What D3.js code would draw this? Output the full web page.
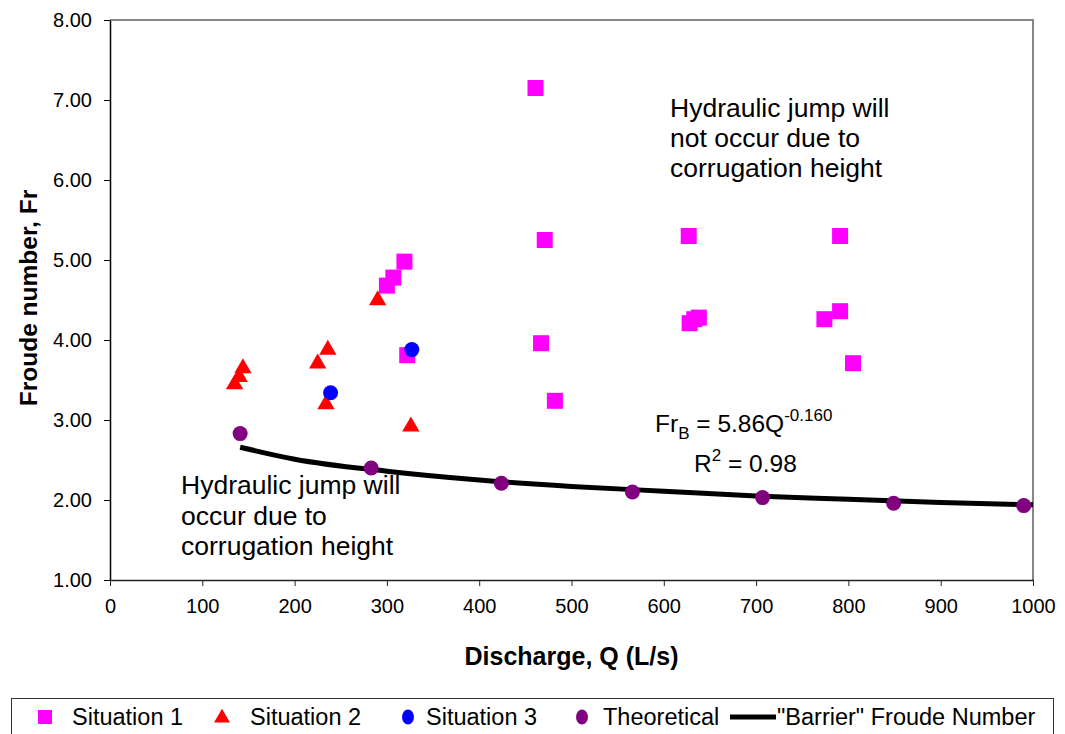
<!DOCTYPE html>
<html>
<head>
<meta charset="utf-8">
<script src="https://cdn.jsdelivr.net/npm/d3@7"></script>
<style>
  body { margin: 0; background: #fff; }
  svg { font-family: "Liberation Sans", Arial, sans-serif; }
</style>
</head>
<body>
<div id="chart"></div>
<script>
// data
const sit1Q  = [461, 471, 627, 791, 467, 482, 628, 633, 638, 774, 791, 805, 319, 307, 300, 322];
const sit1Fr = [7.15, 5.25, 5.30, 5.30, 3.96, 3.24, 4.21, 4.26, 4.28, 4.26, 4.36, 3.71, 4.98, 4.78, 4.68, 3.81];

const sit2Q  = [290, 236, 225, 144, 140, 135, 234, 326];
const sit2Fr = [4.51, 3.89, 3.72, 3.66, 3.55, 3.46, 3.21, 2.93];

const sit3Q  = [239, 327];
const sit3Fr = [3.34, 3.88];

const theoQ  = [141, 283, 424, 566, 707, 849, 990];
const theoFr = [2.83, 2.40, 2.21, 2.10, 2.03, 1.96, 1.93];

// "Barrier" Froude number curve
const barrierQ  = [141, 200, 300, 400, 500, 600, 700, 800, 900, 1000];
const barrierFr = [2.66, 2.51, 2.36, 2.25, 2.17, 2.11, 2.05, 2.01, 1.97, 1.94];

const xTicks = [0, 100, 200, 300, 400, 500, 600, 700, 800, 900, 1000];
const yTicks = [1, 2, 3, 4, 5, 6, 7, 8];

const W = 1065, H = 734;
const margin = { top: 20, right: 32, bottom: 154, left: 110 };
const width = W - margin.left - margin.right;
const height = H - margin.top - margin.bottom;

const zip = (a, b) => a.map((v, i) => ({ q: v, fr: b[i] }));

const x = d3.scaleLinear().domain([0, 1000]).range([0, width]);
const y = d3.scaleLinear().domain([1, 8]).range([height, 0]);

const svg = d3.select("#chart").append("svg")
    .attr("width", W)
    .attr("height", H);

const g = svg.append("g")
    .attr("transform", `translate(${margin.left},${margin.top})`);

// plot frame (top and right in grey)
g.append("path")
    .attr("d", `M0,0H${width}V${height}`)
    .attr("fill", "none")
    .attr("stroke", "#868686")
    .attr("stroke-width", 2);

// x axis
const xAxis = g.append("g")
    .attr("transform", `translate(0,${height})`)
    .call(d3.axisBottom(x).tickValues(xTicks).tickFormat(d3.format("d")).tickSize(6).tickPadding(13).tickSizeOuter(0));
xAxis.select(".domain").attr("stroke", "#222").attr("stroke-width", 1.5);
xAxis.selectAll(".tick line").attr("stroke", "#222");
xAxis.selectAll("text").attr("font-size", 20).attr("fill", "#000");

// y axis
const yAxis = g.append("g")
    .call(d3.axisLeft(y).tickValues(yTicks).tickFormat(d3.format(".2f")).tickSize(6).tickPadding(12).tickSizeOuter(0));
yAxis.select(".domain").attr("stroke", "#000").attr("stroke-width", 1.5);
yAxis.selectAll(".tick line").attr("stroke", "#000");
yAxis.selectAll("text").attr("font-size", 20).attr("fill", "#000");

// axis titles
svg.append("text")
    .attr("x", margin.left + width / 2)
    .attr("y", 665)
    .attr("text-anchor", "middle")
    .attr("font-size", 25)
    .attr("font-weight", "bold")
    .text("Discharge, Q (L/s)");

svg.append("text")
    .attr("transform", `translate(37,${margin.top + height / 2 - 2}) rotate(-90)`)
    .attr("text-anchor", "middle")
    .attr("font-size", 24.5)
    .attr("font-weight", "bold")
    .text("Froude number, Fr");

// barrier curve
const line = d3.line()
    .x(d => x(d.q))
    .y(d => y(d.fr))
    .curve(d3.curveMonotoneX);

g.append("path")
    .datum(zip(barrierQ, barrierFr))
    .attr("d", line)
    .attr("fill", "none")
    .attr("stroke", "#000")
    .attr("stroke-width", 5);

// markers
const sq = d3.symbol().type(d3.symbolSquare).size(256);
const tri = d3.symbol().type(d3.symbolTriangle).size(130);

g.append("g").selectAll("circle")
    .data(zip(theoQ, theoFr))
    .join("circle")
    .attr("cx", d => x(d.q))
    .attr("cy", d => y(d.fr))
    .attr("r", 7.5)
    .attr("fill", "#800080");

g.append("g").selectAll("path")
    .data(zip(sit1Q, sit1Fr))
    .join("path")
    .attr("d", sq)
    .attr("transform", d => `translate(${x(d.q)},${y(d.fr)})`)
    .attr("fill", "#ff00ff");

g.append("g").selectAll("path")
    .data(zip(sit2Q, sit2Fr))
    .join("path")
    .attr("d", tri)
    .attr("transform", d => `translate(${x(d.q)},${y(d.fr) + 1})`)
    .attr("fill", "#ff0000");

g.append("g").selectAll("circle")
    .data(zip(sit3Q, sit3Fr))
    .join("circle")
    .attr("cx", d => x(d.q))
    .attr("cy", d => y(d.fr))
    .attr("r", 7.5)
    .attr("fill", "#0000ff");

// annotations
function multiline(lines, x0, y0, lh) {
    const t = svg.append("text")
        .attr("x", x0)
        .attr("y", y0)
        .attr("font-size", 26.5);
    lines.forEach((s, i) => {
        t.append("tspan").attr("x", x0).attr("dy", i === 0 ? 0 : lh).text(s);
    });
}
multiline(["Hydraulic jump will", "not occur due to", "corrugation height"], 670, 117, 30);
multiline(["Hydraulic jump will", "occur due to", "corrugation height"], 181, 494, 30.5);

// equation
const eq = svg.append("text")
    .attr("x", 655)
    .attr("y", 432)
    .attr("font-size", 24.5);
eq.append("tspan").text("Fr");
eq.append("tspan").attr("font-size", 17).attr("dy", 7).text("B");
eq.append("tspan").attr("dy", -7).text(" = 5.86Q");
eq.append("tspan").attr("font-size", 17).attr("dy", -11).text("-0.160");

const r2 = svg.append("text")
    .attr("x", 694)
    .attr("y", 472)
    .attr("font-size", 24.5);
r2.append("tspan").text("R");
r2.append("tspan").attr("font-size", 17).attr("dy", -11).text("2");
r2.append("tspan").attr("dy", 11).text(" = 0.98");

// legend
const leg = svg.append("g");
leg.append("rect")
    .attr("x", 11.5)
    .attr("y", 698.5)
    .attr("width", 1042)
    .attr("height", 50)
    .attr("fill", "#fff")
    .attr("stroke", "#333")
    .attr("stroke-width", 1);

const ly = 717;
leg.append("path").attr("d", d3.symbol().type(d3.symbolSquare).size(196))
    .attr("transform", `translate(45,${ly})`).attr("fill", "#ff00ff");
leg.append("path").attr("d", d3.symbol().type(d3.symbolTriangle).size(110))
    .attr("transform", `translate(222,${ly + 1})`).attr("fill", "#ff0000");
leg.append("ellipse").attr("cx", 408).attr("cy", ly).attr("rx", 6).attr("ry", 7.5).attr("fill", "#0000ff");
leg.append("ellipse").attr("cx", 582).attr("cy", ly).attr("rx", 6).attr("ry", 7.5).attr("fill", "#800080");
leg.append("line").attr("x1", 730).attr("x2", 776).attr("y1", ly).attr("y2", ly)
    .attr("stroke", "#000").attr("stroke-width", 5);

const legendLabels = ["Situation 1", "Situation 2", "Situation 3", "Theoretical", "\"Barrier\" Froude Number"];
const legendX = [72, 250, 426, 603, 777];
leg.selectAll("text.lbl")
    .data(legendLabels)
    .join("text")
    .attr("class", "lbl")
    .attr("x", (d, i) => legendX[i])
    .attr("y", ly + 8)
    .attr("font-size", 23.5)
    .text(d => d);
</script>
</body>
</html>
